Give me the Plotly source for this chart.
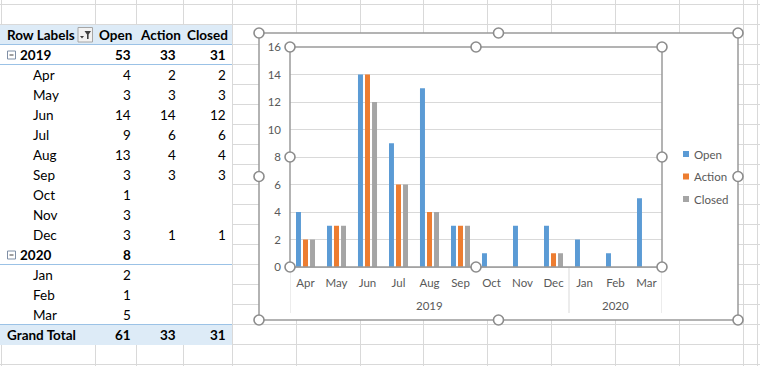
import plotly.graph_objects as go

# ---------------- data ----------------
months = ["Apr", "May", "Jun", "Jul", "Aug", "Sep", "Oct", "Nov", "Dec", "Jan", "Feb", "Mar"]
month_year = ["2019"] * 9 + ["2020"] * 3
years = ["2019", "2020"]
series_names = ["Open", "Action", "Closed"]
open_vals = [4, 3, 14, 9, 13, 3, 1, 3, 3, 2, 1, 5]
action_vals = [2, 3, 14, 6, 4, 3, None, None, 1, None, None, None]
closed_vals = [2, 3, 12, 6, 4, 3, None, None, 1, None, None, None]
y_tick_vals = [0, 2, 4, 6, 8, 10, 12, 14, 16]

series_vals = [open_vals, action_vals, closed_vals]
colors = ["#5B9BD5", "#ED7D31", "#A5A5A5"]

W, H = 760, 366
FONT = "Lato, Carlito, 'Liberation Sans', sans-serif"
GRID = "#D9D9D9"
BLUE_FILL = "#DDEBF7"
BLUE_LINE = "#9BC2E6"
SEL = "#9A9A9A"


def X(px):
    return px / W


def Y(py):
    return 1 - py / H


shapes = []
annots = []


def rect(x0, y0, x1, y1, fill=None, line=None, lw=1, layer="below"):
    shapes.append(dict(type="rect", xref="paper", yref="paper",
                       x0=X(x0), x1=X(x1), y0=Y(y0), y1=Y(y1),
                       fillcolor=fill if fill else "rgba(0,0,0,0)",
                       line=dict(color=line if line else "rgba(0,0,0,0)", width=lw if line else 0),
                       layer=layer))


def hline(x0, x1, y, color, lw=1, layer="below"):
    shapes.append(dict(type="line", xref="paper", yref="paper",
                       x0=X(x0), x1=X(x1), y0=Y(y), y1=Y(y),
                       line=dict(color=color, width=lw), layer=layer))


def vline(x, y0, y1, color, lw=1, layer="below"):
    shapes.append(dict(type="line", xref="paper", yref="paper",
                       x0=X(x), x1=X(x), y0=Y(y0), y1=Y(y1),
                       line=dict(color=color, width=lw), layer=layer))


def text(s, x, y, anchor="left", size=14, bold=False, color="#000000"):
    annots.append(dict(text=("<b>%s</b>" % s) if bold else s, xref="paper", yref="paper",
                       x=X(x), y=Y(y), xanchor=anchor, yanchor="middle", showarrow=False,
                       font=dict(family=FONT, size=size, color=color)))


# ---------------- spreadsheet grid ----------------
col_lines = [1, 95, 136, 183, 232, 296, 360, 423, 487, 551, 615, 679, 743, 757]
for cx in col_lines:
    vline(cx + 0.5, 0, H, GRID)
for k in range(19):
    hline(0, W, 4.5 + 20 * k, GRID)

# pivot table background
rect(0, 25, 232, 345, fill="#FFFFFF")
vline(232.5, 25, 345, GRID)
rect(0, 25, 232, 45, fill=BLUE_FILL)
rect(0, 325, 232, 345, fill=BLUE_FILL)
hline(0, 232, 44.5, BLUE_LINE)
hline(0, 232, 64.5, BLUE_LINE)
hline(0, 232, 264.5, BLUE_LINE)
hline(0, 232, 324.5, BLUE_LINE)

# ---------------- pivot table text ----------------
TS = 13.5
val_right = [133, 178, 228]
head_left = [97, 138, 185]
text("Row Labels", 5, 35, bold=True, size=TS)
for nm, hx in zip(series_names, head_left):
    text(nm, hx, 35, bold=True, size=TS)

# filter button
rect(78, 27.5, 92.5, 42, fill="#F2F2F2", line="#A6A6A6")
shapes.append(dict(type="path", xref="paper", yref="paper",
                   path="M %f,%f L %f,%f L %f,%f L %f,%f L %f,%f L %f,%f Z" % (
                       X(84.5), Y(31), X(91), Y(31), X(88.6), Y(34.5), X(88.6), Y(39),
                       X(87), Y(39), X(87), Y(34.5)),
                   fillcolor="#404040", line=dict(width=0), layer="above"))
shapes.append(dict(type="path", xref="paper", yref="paper",
                   path="M %f,%f L %f,%f L %f,%f Z" % (X(80), Y(36), X(84), Y(36), X(82), Y(38.5)),
                   fillcolor="#404040", line=dict(width=0), layer="above"))


def year_box(yc):
    rect(7.5, yc - 4, 15.5, yc + 4, fill="#FFFFFF", line="#7F8FA6")
    hline(9.5, 13.5, yc, "#404040")


row_y = 55
for yr in years:
    idx = [i for i, y in enumerate(month_year) if y == yr]
    year_box(row_y)
    text(yr, 18, row_y, bold=True, size=TS)
    for vals, rx in zip(series_vals, val_right):
        sub = [vals[i] for i in idx if vals[i] is not None]
        if sub:
            text(str(sum(sub)), rx, row_y, anchor="right", bold=True, size=TS)
    row_y += 20
    for i in idx:
        text(months[i], 31, row_y, size=TS)
        for vals, rx in zip(series_vals, val_right):
            if vals[i] is not None:
                text(str(vals[i]), rx, row_y, anchor="right", size=TS)
        row_y += 20

text("Grand Total", 5, row_y, bold=True, size=TS)
for vals, rx in zip(series_vals, val_right):
    tot = [v for v in vals if v is not None]
    text(str(sum(tot)), rx, row_y, anchor="right", bold=True, size=TS)

# ---------------- chart area ----------------
CX0, CY0, CX1, CY1 = 259, 33, 738, 320
PX0, PY0, PX1, PY1 = 290, 47, 662, 267
rect(CX0, CY0, CX1, CY1, fill="#FFFFFF")

fig = go.Figure()
for nm, vals, col in zip(series_names, series_vals, colors):
    fig.add_bar(name=nm, x=months, y=vals, marker=dict(color=col, line=dict(width=0)),
                showlegend=False)

# year group labels and dividers (placed on the category axis)
bounds = [-0.5]
for yr in years:
    idx = [i for i, y in enumerate(month_year) if y == yr]
    bounds.append(idx[-1] + 0.5)
    annots.append(dict(text=yr, xref="x", yref="paper", x=(idx[0] + idx[-1]) / 2, y=Y(305),
                       xanchor="center", yanchor="middle", showarrow=False,
                       font=dict(family=FONT, size=11.5, color="#595959")))
for b in bounds:
    shapes.append(dict(type="line", xref="x", yref="paper", x0=b, x1=b, y0=Y(PY1), y1=Y(313),
                       line=dict(color=GRID, width=1), layer="below"))

# selection outlines
rect(CX0, CY0, CX1, CY1, line=SEL, lw=1.5, layer="above")
rect(PX0, PY0, PX1, PY1, line=SEL, lw=1.5, layer="above")


def handle(x, y):
    shapes.append(dict(type="circle", xref="paper", yref="paper",
                       x0=X(x - 5), x1=X(x + 5), y0=Y(y - 5), y1=Y(y + 5),
                       fillcolor="#FFFFFF", line=dict(color="#8C8C8C", width=1.6), layer="above"))


for hx, hy in [(CX0, CY0), ((CX0 + CX1) / 2, CY0), (CX1, CY0), (CX0, (CY0 + CY1) / 2),
               (CX1, (CY0 + CY1) / 2), (CX0, CY1), ((CX0 + CX1) / 2, CY1), (CX1, CY1)]:
    handle(hx, hy)
for hx, hy in [(PX0, PY0), ((PX0 + PX1) / 2, PY0), (PX1, PY0), (PX0, (PY0 + PY1) / 2),
               (PX1, (PY0 + PY1) / 2), (PX0, PY1), ((PX0 + PX1) / 2, PY1), (PX1, PY1)]:
    handle(hx, hy)

# legend (manual, Excel-style small squares)
ly = 154
for nm, col in zip(series_names, colors):
    rect(683, ly - 3, 689, ly + 3, fill=col, layer="above")
    text(nm, 692, ly, size=11.5, color="#595959")
    ly += 22.5

fig.update_layout(
    width=W, height=H, autosize=False,
    margin=dict(l=0, r=0, t=0, b=0),
    paper_bgcolor="#FFFFFF", plot_bgcolor="rgba(0,0,0,0)",
    barmode="group", bargap=0.32, bargroupgap=0.29,
    font=dict(family=FONT, size=12, color="#595959"),
    shapes=shapes, annotations=annots,
    xaxis=dict(domain=[X(PX0), X(PX1)], type="category", range=[-0.5, len(months) - 0.5],
               showgrid=False, showline=True, linecolor="#BFBFBF", ticks="", tickangle=0,
               automargin=False, ticklabelstandoff=5,
               tickfont=dict(size=11.5, color="#595959")),
    yaxis=dict(domain=[Y(PY1), Y(PY0)], range=[0, 16], tickvals=y_tick_vals, automargin=False,
               showgrid=True, gridcolor=GRID, gridwidth=1, zeroline=False, showline=False,
               ticks="", ticklabelstandoff=8, tickfont=dict(size=11.5, color="#595959")),
)

fig.write_html("out.html", config={"displayModeBar": False},
               post_script="document.body.style.margin='0';document.body.style.overflow='hidden';")
